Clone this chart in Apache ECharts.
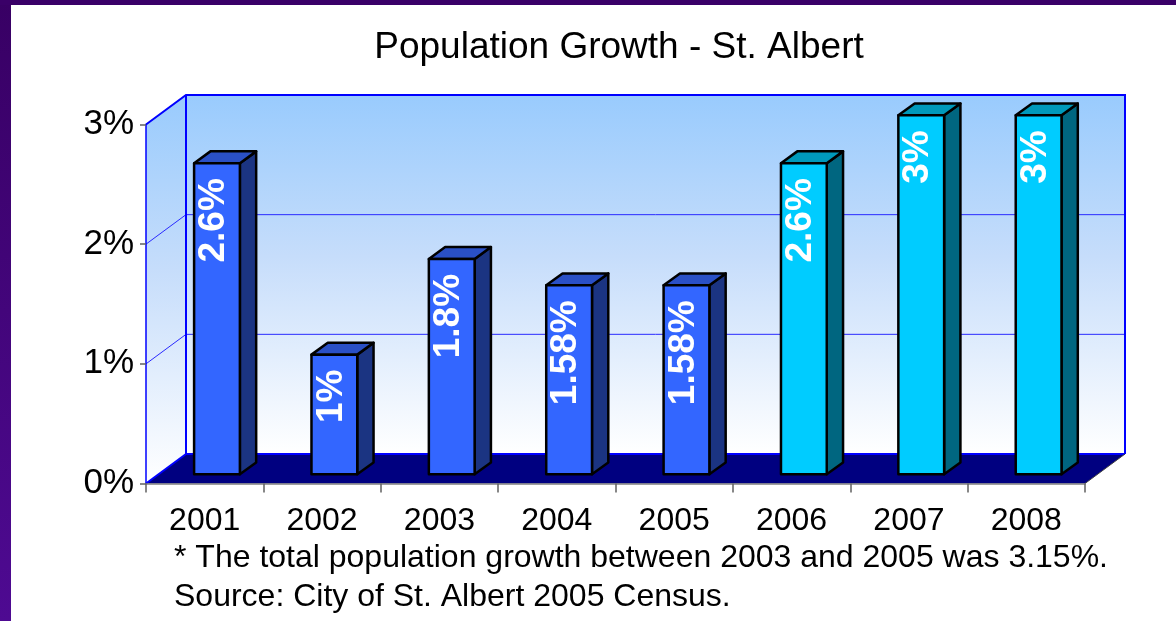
<!DOCTYPE html>
<html>
<head>
<meta charset="utf-8">
<title>Population Growth - St. Albert</title>
<script src="https://cdn.jsdelivr.net/npm/echarts@6/dist/echarts.min.js"></script>
<style>
  html, body { margin: 0; padding: 0; background: #ffffff; }
  #chart { width: 1176px; height: 621px; }
</style>
</head>
<body>
<div id="chart"></div>
<script>
// ---- data ----
const years = ['2001', '2002', '2003', '2004', '2005', '2006', '2007', '2008'];
const growth = [2.6, 1, 1.8, 1.58, 1.58, 2.6, 3, 3];
const valueLabels = ['2.6%', '1%', '1.8%', '1.58%', '1.58%', '2.6%', '3%', '3%'];
const yTickLabels = ['0%', '1%', '2%', '3%'];
const titleText = 'Population Growth - St. Albert';
const noteLines = [
  '* The total population growth between 2003 and 2005 was 3.15%.',
  'Source: City of St. Albert 2005 Census.'
];

// ---- 3D look ----
const FONT = '"Liberation Sans", Arial, sans-serif';
const DEPTH_X = 40, DEPTH_Y = -29.5;      // wall depth
const BAR_SHIFT_X = 12.3, BAR_SHIFT_Y = -9.2; // bar front plane
const BAR_DX = 16.3, BAR_DY = -11.8;      // bar thickness
const BAR_RATIO = 0.39;
const firstCyan = 5;
const palettes = {
  blue: { front: '#3366ff', side: '#1b3482', top: '#2a50c6' },
  cyan: { front: '#00ccff', side: '#006680', top: '#0099bb' }
};

const chart = echarts.init(document.getElementById('chart'), null, { renderer: 'canvas' });

function wallGradient() {
  return new echarts.graphic.LinearGradient(0, 0, 0, 1, [
    { offset: 0, color: '#99cbfd' },
    { offset: 0.45, color: '#c6ddfb' },
    { offset: 1, color: '#ffffff' }
  ]);
}

function renderFrame(params, api) {
  const cs = params.coordSys;
  const x0 = cs.x, yT = cs.y, W = cs.width, yB = cs.y + cs.height;
  const bx = x0 + DEPTH_X;
  const children = [];
  // left side wall
  children.push({
    type: 'polygon',
    shape: { points: [[x0, yT], [bx, yT + DEPTH_Y], [bx, yB + DEPTH_Y], [x0, yB]] },
    style: { fill: wallGradient() }
  });
  // back wall
  children.push({
    type: 'rect',
    shape: { x: bx, y: yT + DEPTH_Y, width: W, height: yB - yT },
    style: { fill: wallGradient() }
  });
  // floor
  children.push({
    type: 'polygon',
    shape: { points: [[x0, yB], [bx, yB + DEPTH_Y], [bx + W, yB + DEPTH_Y], [x0 + W, yB]] },
    style: { fill: '#000080' }
  });
  // grid lines on the walls
  for (let v = 1; v < yTickLabels.length - 1; v++) {
    const y = api.coord([0, v])[1];
    children.push({
      type: 'polyline',
      shape: { points: [[x0, y], [bx, y + DEPTH_Y], [bx + W, y + DEPTH_Y]] },
      style: { stroke: '#2a2aff', lineWidth: 1, fill: null }
    });
  }
  // wall outlines
  const blue = { stroke: '#0000ff', lineWidth: 2, fill: null };
  children.push({ type: 'polyline', shape: { points: [[x0, yT], [bx, yT + DEPTH_Y], [bx + W, yT + DEPTH_Y], [bx + W, yB + DEPTH_Y]] }, style: blue });
  children.push({ type: 'polyline', shape: { points: [[bx, yT + DEPTH_Y], [bx, yB + DEPTH_Y], [bx + W, yB + DEPTH_Y]] }, style: blue });
  children.push({ type: 'polyline', shape: { points: [[x0, yB], [bx, yB + DEPTH_Y]] }, style: blue });
  children.push({ type: 'polyline', shape: { points: [[bx + W, yB + DEPTH_Y], [x0 + W, yB]] }, style: { stroke: '#404040', lineWidth: 1, fill: null } });
  return { type: 'group', children };
}

function renderBar(params, api) {
  const i = api.value(0);
  const v = api.value(1);
  const base = api.coord([i, 0]);
  const topPt = api.coord([i, v]);
  const band = api.size([1, 0])[0];
  const w = band * BAR_RATIO;
  const L = base[0] - w / 2 + BAR_SHIFT_X;
  const R = L + w;
  const B = base[1] + BAR_SHIFT_Y;
  const T = topPt[1] + BAR_SHIFT_Y;
  const pal = i >= firstCyan ? palettes.cyan : palettes.blue;
  const edge = { stroke: '#000000', lineWidth: 2.5, lineJoin: 'round' };
  return {
    type: 'group',
    children: [
      { type: 'polygon', shape: { points: [[R, T], [R + BAR_DX, T + BAR_DY], [R + BAR_DX, B + BAR_DY], [R, B]] }, style: Object.assign({ fill: pal.side }, edge) },
      { type: 'polygon', shape: { points: [[L, T], [L + BAR_DX, T + BAR_DY], [R + BAR_DX, T + BAR_DY], [R, T]] }, style: Object.assign({ fill: pal.top }, edge) },
      { type: 'rect', shape: { x: L, y: T, width: w, height: B - T }, style: Object.assign({ fill: pal.front }, edge) },
      {
        type: 'text',
        x: (L + R) / 2 - 3,
        y: T + 15,
        rotation: Math.PI / 2,
        style: {
          text: valueLabels[i],
          fill: '#ffffff',
          font: 'bold 37px ' + FONT,
          align: 'right',
          verticalAlign: 'middle'
        }
      }
    ]
  };
}

const option = {
  backgroundColor: '#ffffff',
  animation: false,
  grid: { left: 146, top: 124.5, width: 939, height: 359, containLabel: false },
  xAxis: {
    type: 'category',
    data: years,
    boundaryGap: true,
    z: 5,
    axisLine: { lineStyle: { color: '#808080', width: 1.5 } },
    axisTick: { show: true, length: 9, lineStyle: { color: '#606060', width: 1.5 } },
    axisLabel: { color: '#000000', fontSize: 32, fontFamily: FONT, margin: 22 },
    splitLine: { show: false }
  },
  yAxis: {
    type: 'value',
    min: 0,
    max: 3,
    interval: 1,
    z: 5,
    axisLine: { show: true, lineStyle: { color: '#0000ff', width: 1.5 } },
    axisTick: { show: true, length: 6, lineStyle: { color: '#606060', width: 1.5 } },
    axisLabel: { color: '#000000', fontSize: 35, fontFamily: FONT, margin: 12, formatter: (v) => yTickLabels[v] },
    splitLine: { show: false }
  },
  graphic: [
    {
      type: 'rect', left: 0, top: 0, z: 10,
      shape: { width: 11, height: 621 },
      style: { fill: new echarts.graphic.LinearGradient(0, 0, 0, 1, [{ offset: 0, color: '#380064' }, { offset: 1, color: '#4e0a92' }]) }
    },
    {
      type: 'rect', left: 0, top: 0, z: 10,
      shape: { width: 1176, height: 5 },
      style: { fill: '#3a0068' }
    },
    {
      type: 'text', z: 10,
      x: 619, y: 48,
      style: { text: titleText, font: '37px ' + FONT, fill: '#000000', align: 'center', verticalAlign: 'middle' }
    },
    {
      type: 'text', z: 10,
      x: 174, y: 558,
      style: { text: noteLines[0], font: '32px ' + FONT, fill: '#000000', align: 'left', verticalAlign: 'middle' }
    },
    {
      type: 'text', z: 10,
      x: 174, y: 597,
      style: { text: noteLines[1], font: '32px ' + FONT, fill: '#000000', align: 'left', verticalAlign: 'middle' }
    }
  ],
  series: [
    {
      type: 'custom',
      name: 'frame',
      z: 1,
      silent: true,
      renderItem: renderFrame,
      data: [[0, 0]]
    },
    {
      type: 'custom',
      name: 'growth',
      z: 3,
      renderItem: renderBar,
      encode: { x: 0, y: 1 },
      data: growth.map((v, i) => [i, v])
    }
  ]
};

chart.setOption(option);
</script>
</body>
</html>
